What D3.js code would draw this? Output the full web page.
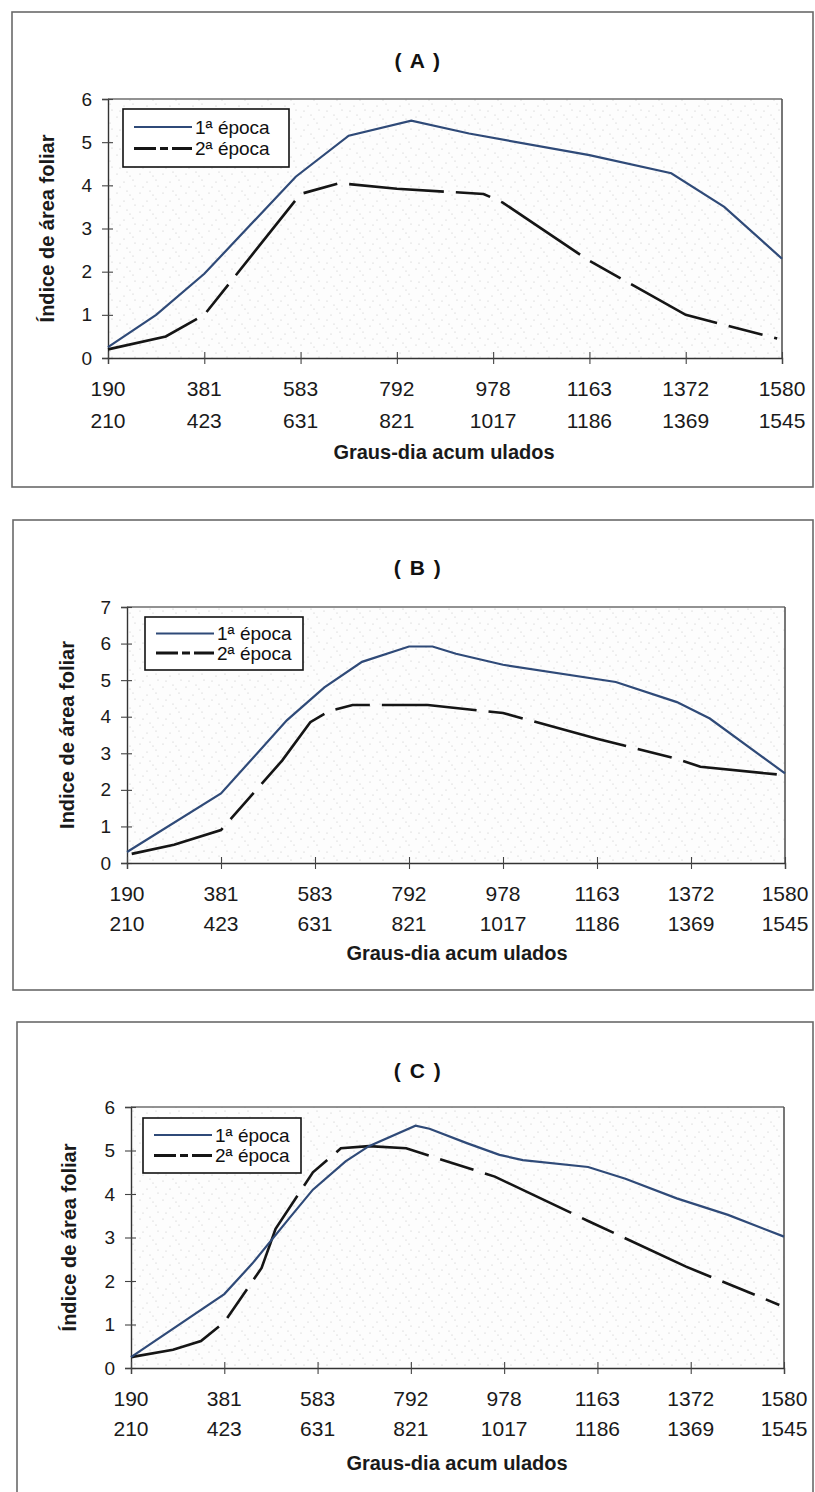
<!DOCTYPE html>
<html><head><meta charset="utf-8">
<script src="https://cdn.jsdelivr.net/npm/d3@7"></script>
<style>
body{margin:0;background:#fff}
svg{display:block}
text{font-family:"Liberation Sans",Arial,Helvetica,sans-serif}
</style>
</head><body>
<svg id="chart" width="815" height="1492"></svg>
<script>
// ---------- DATA ----------
const sampling = [0,1,2,3,4,5,6,7];
const grausDia1aEpoca = ["190","381","583","792","978","1163","1372","1580"];
const grausDia2aEpoca = ["210","423","631","821","1017","1186","1369","1545"];
const seriesNames = ["1ª época","2ª época"];
const panelTitles = ["( A )","( B )","( C )"];
const yAxisTitles = ["Índice de área foliar","Indice de área foliar","Índice de área foliar"];
const xAxisTitle = "Graus-dia acum ulados";
const yTicksA = [0,1,2,3,4,5,6];
const yTicksB = [0,1,2,3,4,5,6,7];
const yTicksC = [0,1,2,3,4,5,6];

// [sampling position, leaf area index]
const A_epoca1 = [[0,0.25],[0.5,1.0],[1,1.95],[1.95,4.2],[2.5,5.15],[3.15,5.5],[3.75,5.2],[5,4.7],[5.85,4.28],[6.4,3.5],[7,2.3]];
const A_epoca2 = [[0,0.2],[0.6,0.5],[1,1.0],[1.5,2.4],[2,3.8],[2.4,4.05],[3,3.92],[3.9,3.8],[4.1,3.6],[5,2.25],[6,1.0],[6.95,0.45]];
const B_epoca1 = [[0,0.3],[1,1.9],[1.7,3.9],[2.1,4.8],[2.5,5.5],[3,5.92],[3.25,5.92],[3.5,5.72],[4,5.42],[5.2,4.95],[5.85,4.4],[6.2,3.95],[7,2.45]];
const B_epoca2 = [[0.05,0.25],[0.5,0.5],[1,0.9],[1.65,2.8],[1.95,3.85],[2.15,4.15],[2.4,4.32],[3.2,4.32],[4,4.1],[5,3.4],[5.85,2.85],[6.1,2.63],[7,2.4]];
const C_epoca1 = [[0,0.25],[1,1.7],[1.3,2.4],[1.7,3.45],[1.95,4.1],[2.3,4.75],[2.55,5.1],[3.05,5.57],[3.2,5.5],[3.6,5.17],[3.95,4.9],[4.2,4.78],[4.9,4.62],[5.3,4.35],[5.85,3.9],[6.4,3.52],[7,3.02]];
const C_epoca2 = [[0,0.25],[0.45,0.42],[0.75,0.62],[1,1.05],[1.4,2.3],[1.55,3.2],[1.95,4.5],[2.25,5.05],[2.55,5.1],[2.95,5.05],[3.9,4.4],[4.9,3.38],[5.95,2.33],[6.95,1.45]];

// ---------- LAYOUT ----------
const panels = [
  {title:panelTitles[0], yTitle:yAxisTitles[0], yTicks:yTicksA, s1:A_epoca1, s2:A_epoca2,
   box:{x:12,y:12,w:801,h:475}, plot:{l:108,r:782,t:99,b:358}, titleY:60, yTitleX:47,
   legend:{x:123,y:109,w:166,h:58}, row1:388, row2:420, xTitleY:452, xTitleX:444},
  {title:panelTitles[1], yTitle:yAxisTitles[1], yTicks:yTicksB, s1:B_epoca1, s2:B_epoca2,
   box:{x:13,y:520,w:800,h:470}, plot:{l:127,r:785,t:607,b:863}, titleY:567, yTitleX:67,
   legend:{x:145,y:617,w:158,h:53}, row1:893, row2:923, xTitleY:953, xTitleX:457},
  {title:panelTitles[2], yTitle:yAxisTitles[2], yTicks:yTicksC, s1:C_epoca1, s2:C_epoca2,
   box:{x:17,y:1022,w:796,h:500}, plot:{l:131,r:784,t:1107,b:1368}, titleY:1070, yTitleX:69,
   legend:{x:143,y:1118,w:158,h:55}, row1:1398, row2:1428, xTitleY:1463, xTitleX:457}
];

const svg = d3.select("#chart");
const defs = svg.append("defs");
const pat = defs.append("pattern").attr("id","stipple").attr("patternUnits","userSpaceOnUse")
  .attr("width",23).attr("height",19);
pat.append("rect").attr("width",23).attr("height",19).attr("fill","#fdfdfd");
[[2,3],[9,11],[15,5],[20,15],[5,16],[12,1],[18,9]].forEach(p=>{
  pat.append("circle").attr("cx",p[0]).attr("cy",p[1]).attr("r",0.6).attr("fill","#c4c4c4");
});

const blue = "#2f4a78";
const dark = "#151515";
const dashChart = "95,12,35,12";
const dashLegend = "22,4,8,4";

panels.forEach(P=>{
  const g = svg.append("g");
  // outer box
  g.append("rect").attr("x",P.box.x).attr("y",P.box.y).attr("width",P.box.w).attr("height",P.box.h)
    .attr("fill","#fff").attr("stroke","#6a6a6a").attr("stroke-width",1.6);

  const x = d3.scaleLinear().domain([0,7]).range([P.plot.l,P.plot.r]);
  const yMax = d3.max(P.yTicks);
  const y = d3.scaleLinear().domain([0,yMax]).range([P.plot.b,P.plot.t]);

  // plot area
  g.append("rect").attr("x",P.plot.l).attr("y",P.plot.t)
    .attr("width",P.plot.r-P.plot.l).attr("height",P.plot.b-P.plot.t)
    .attr("fill","url(#stipple)");
  g.append("line").attr("x1",P.plot.l).attr("x2",P.plot.r).attr("y1",P.plot.t).attr("y2",P.plot.t)
    .attr("stroke","#6e6e6e").attr("stroke-width",1.4);
  g.append("line").attr("x1",P.plot.r).attr("x2",P.plot.r).attr("y1",P.plot.t).attr("y2",P.plot.b)
    .attr("stroke","#555").attr("stroke-width",1.6);

  // title
  g.append("text").attr("x",418).attr("y",P.titleY).attr("dy","0.36em")
    .attr("text-anchor","middle").attr("font-size",21).attr("font-weight","bold")
    .attr("letter-spacing",1.5).attr("fill","#111").text(P.title);

  // y axis
  const yAxis = d3.axisLeft(y).tickValues(P.yTicks).tickFormat(d3.format("d")).tickSize(6).tickPadding(10);
  const ya = g.append("g").attr("transform",`translate(${P.plot.l},0)`).call(yAxis);
  ya.select(".domain").attr("stroke","#333").attr("stroke-width",1.4);
  ya.selectAll(".tick line").attr("x1",5).attr("stroke","#444").attr("stroke-width",1.1);
  ya.selectAll(".tick text").attr("font-size",19).attr("fill","#1a1a1a")
    .style("font-family","'Liberation Sans',Arial,sans-serif");

  // x axis
  const xAxis = d3.axisBottom(x).tickValues(sampling).tickFormat("").tickSize(6);
  const xa = g.append("g").attr("transform",`translate(0,${P.plot.b})`).call(xAxis);
  xa.select(".domain").attr("stroke","#333").attr("stroke-width",1.4);
  xa.selectAll(".tick line").attr("y1",-6).attr("stroke","#444").attr("stroke-width",1.1);

  g.selectAll(".row1").data(sampling).join("text")
    .attr("x",d=>x(d)).attr("y",P.row1).attr("dy","0.36em").attr("text-anchor","middle")
    .attr("font-size",21).attr("fill","#1a1a1a").text(d=>grausDia1aEpoca[d]);
  g.selectAll(".row2").data(sampling).join("text")
    .attr("x",d=>x(d)).attr("y",P.row2).attr("dy","0.36em").attr("text-anchor","middle")
    .attr("font-size",21).attr("fill","#1a1a1a").text(d=>grausDia2aEpoca[d]);

  // axis titles
  g.append("text").attr("x",P.xTitleX).attr("y",P.xTitleY).attr("dy","0.36em")
    .attr("text-anchor","middle").attr("font-size",20).attr("font-weight","bold")
    .attr("fill","#1a1a1a").text(xAxisTitle);
  g.append("text").attr("transform",`translate(${P.yTitleX},${(P.plot.t+P.plot.b)/2}) rotate(-90)`)
    .attr("dy","0.36em").attr("text-anchor","middle").attr("font-size",20).attr("font-weight","bold")
    .attr("fill","#1a1a1a").text(P.yTitle);

  // lines
  const line = d3.line().x(d=>x(d[0])).y(d=>y(d[1])).curve(d3.curveLinear);
  g.append("path").datum(P.s2).attr("d",line).attr("fill","none")
    .attr("stroke",dark).attr("stroke-width",2.6).attr("stroke-dasharray",dashChart);
  g.append("path").datum(P.s1).attr("d",line).attr("fill","none")
    .attr("stroke",blue).attr("stroke-width",2.2);

  // legend
  const L = P.legend;
  const lg = g.append("g");
  lg.append("rect").attr("x",L.x).attr("y",L.y).attr("width",L.w).attr("height",L.h)
    .attr("fill","#fff").attr("stroke","#111").attr("stroke-width",1.6);
  const rowY = [L.y + L.h*0.31, L.y + L.h*0.68];
  seriesNames.forEach((nm,i)=>{
    lg.append("line").attr("x1",L.x+11).attr("x2",L.x+69).attr("y1",rowY[i]).attr("y2",rowY[i])
      .attr("stroke", i===0?blue:dark).attr("stroke-width", i===0?2:3)
      .attr("stroke-dasharray", i===0?null:dashLegend);
    lg.append("text").attr("x",L.x+72).attr("y",rowY[i]).attr("dy","0.36em")
      .attr("font-size",19).attr("fill","#111").text(nm);
  });
});
</script>
</body></html>
